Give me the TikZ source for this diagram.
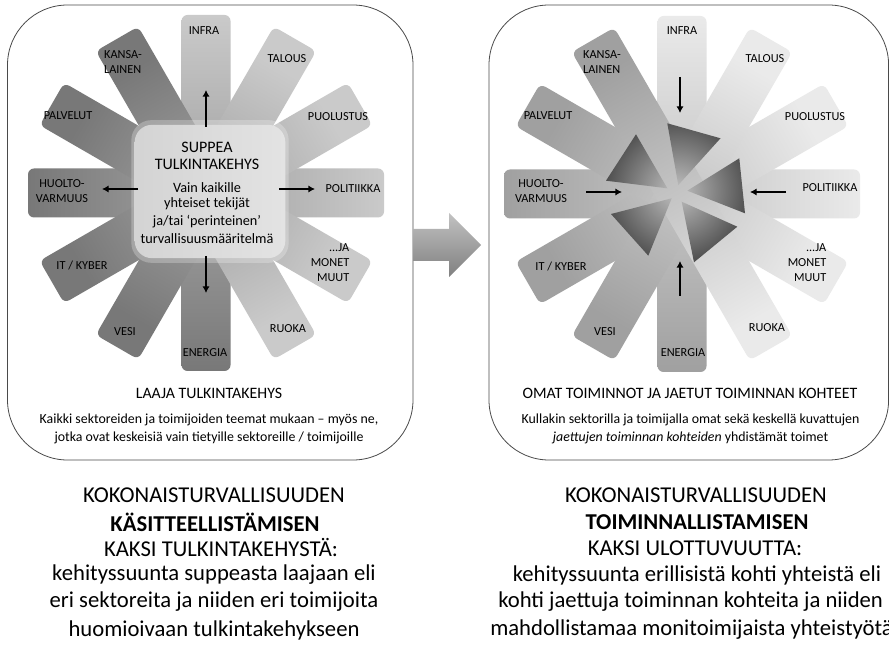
\documentclass[tikz,border=0pt]{standalone}
\usepackage{fontspec}
\setmainfont{Carlito}
\usetikzlibrary{arrows.meta,calc}
\definecolor{ldark}{HTML}{787878}
\definecolor{llight}{HTML}{CACACA}
\definecolor{rdark}{HTML}{A0A0A0}
\definecolor{rlight}{HTML}{EAEAEA}
\definecolor{framec}{HTML}{4A4A4A}
\newcommand{\starbar}[4]{%
  \pgfmathsetmacro{\sbA}{#2-90}%
  \pgfmathsetmacro{\sbB}{#2+90}%
  \pgfmathsetmacro{\sbC}{#2+180}%
  \shade[rounded corners=4.5pt, top color=#4, bottom color=#3, shading angle=\sbA]
    ($(#1)+(\sbC:178)+(\sbA:24.5)$) -- ($(#1)+(#2:178)+(\sbA:24.5)$) --
    ($(#1)+(#2:178)+(\sbB:24.5)$) -- ($(#1)+(\sbC:178)+(\sbB:24.5)$) -- cycle;}
\tikzset{
  frm/.style={draw=framec, line width=0.6pt, rounded corners=45pt, fill=white},
  lbl/.style={font=\fontsize{9.2}{11.2}\selectfont, align=center, inner sep=0pt},
  arr/.style={line width=1.1pt, -{Latex[length=5pt,width=5.5pt]}},
  capt/.style={font=\fontsize{11.9}{14}\selectfont, inner sep=0pt},
  subt/.style={font=\fontsize{10.4}{13}\selectfont, inner sep=0pt},
  bigt/.style={font=\fontsize{17}{20}\selectfont, inner sep=0pt},
  boxt/.style={font=\fontsize{12}{14}\selectfont, inner sep=0pt},
  boxs/.style={font=\fontsize{10.7}{13}\selectfont, inner sep=0pt},
}
\begin{document}
\begin{tikzpicture}[x=0.75pt,y=0.75pt]
\useasboundingbox (0,0) rectangle (889,-648);
% frames
\draw[frm] (7.5,-5) rectangle (413,-460);
\draw[frm] (489,-5) rectangle (888.6,-460);
% middle block arrow
\shade[top color=black!24, bottom color=black!50]
  (413.5,-229) -- (449,-229) -- (449,-213) -- (481,-245) -- (449,-277) -- (449,-261) -- (413.5,-261) -- cycle;
% ---------- left star ----------
\coordinate (cl) at (206,-193);
\starbar{cl}{90}{ldark}{llight}
\starbar{cl}{0}{ldark}{llight}
\starbar{cl}{30}{ldark}{llight}
\starbar{cl}{-30}{ldark}{llight}
\starbar{cl}{60}{ldark}{llight}
\starbar{cl}{-60}{ldark}{llight}
% center box
\node[minimum width=118pt, minimum height=107pt, rounded corners=15pt, fill=white, opacity=0.25] (glow) at (210,-191.5) {};
\node[minimum width=113pt, minimum height=100pt, rounded corners=13pt, left color=black!17, right color=black!11] (cbox) at (210,-191.5) {};
\node[boxt] (s1) at (207,-147) {SUPPEA};
\node[boxt] (s2) at (207,-164) {TULKINTAKEHYS};
\node[boxs] (s3) at (207,-188) {Vain kaikille};
\node[boxs] (s4) at (207,-204) {yhteiset tekijät};
\node[boxs] (s5) at (207,-222) {ja/tai ‘perinteinen’};
\node[boxs] (s6) at (207,-239) {turvallisuusmääritelmä};
% left arrows
\coordinate (lu) at (206,-90);
\coordinate (lus) at (206,-127);
\coordinate (ll) at (102,-189);
\coordinate (lls) at (138,-189);
\coordinate (lr) at (315,-189);
\coordinate (lrs) at (279,-189);
\coordinate (ld) at (206,-293);
\coordinate (lds) at (206,-256);
\draw[arr] (lus) -- (lu);
\draw[arr] (lls) -- (ll);
\draw[arr] (lrs) -- (lr);
\draw[arr] (lds) -- (ld);
% left labels
\node[lbl] (a1) at (204,-31) {INFRA};
\node[lbl] (a2) at (287,-59) {TALOUS};
\node[lbl] (a3) at (338,-117) {PUOLUSTUS};
\node[lbl] (a4) at (353,-189) {POLITIIKKA};
\node[lbl, align=right] (a5) at (330,-263) {...JA\\MONET\\MUUT};
\node[lbl] (a6) at (288,-329) {RUOKA};
\node[lbl] (a7) at (205,-353) {ENERGIA};
\node[lbl] (a8) at (125,-332) {VESI};
\node[lbl] (a9) at (82,-266) {IT / KYBER};
\node[lbl] (a10) at (62,-191) {HUOLTO-\\VARMUUS};
\node[lbl] (a11) at (68,-116) {PALVELUT};
\node[lbl, align=left] (a12) at (123,-62) {KANSA-\\LAINEN};
% left captions
\node[capt] (c1) at (209,-393) {LAAJA TULKINTAKEHYS};
\node[subt] (c2) at (209,-420) {Kaikki sektoreiden ja toimijoiden teemat mukaan – myös ne,};
\node[subt] (c3) at (209,-438) {jotka ovat keskeisiä vain tietyille sektoreille / toimijoille};
% ---------- right star ----------
\coordinate (cr) at (682,-194);
\starbar{cr}{90}{rdark}{rlight}
\starbar{cr}{0}{rdark}{rlight}
\starbar{cr}{30}{rdark}{rlight}
\starbar{cr}{-30}{rdark}{rlight}
\starbar{cr}{60}{rdark}{rlight}
\starbar{cr}{-60}{rdark}{rlight}
\begin{scope}
\clip (667.3,-123.3) -- (720.5,-138.3) -- (678.3,-185) -- cycle
      (636,-134.3) -- (606,-180.7) -- (667.3,-188.3) -- cycle
      (739.3,-158.3) -- (745,-213.3) -- (687.3,-190.7) -- cycle
      (611,-214) -- (671.7,-198.3) -- (648.3,-255.7) -- cycle
      (681.7,-201.7) -- (737.3,-226.7) -- (694,-262.3) -- cycle;
\shade[inner color=black!24, outer color=black!78] (677,-191) circle (86);
\end{scope}
% right arrows
\coordinate (rus) at (680,-77);
\coordinate (ru) at (680,-113);
\coordinate (rls) at (586,-192);
\coordinate (rl) at (622,-192);
\coordinate (rrs) at (786,-192);
\coordinate (rr) at (750,-192);
\coordinate (rds) at (680,-296);
\coordinate (rd) at (680,-261);
\draw[arr] (rus) -- (ru);
\draw[arr] (rls) -- (rl);
\draw[arr] (rrs) -- (rr);
\draw[arr] (rds) -- (rd);
% right labels
\node[lbl] (b1) at (682,-31) {INFRA};
\node[lbl] (b2) at (765,-59) {TALOUS};
\node[lbl] (b3) at (815,-117) {PUOLUSTUS};
\node[lbl] (b4) at (830,-188) {POLITIIKKA};
\node[lbl, align=right] (b5) at (807,-263) {...JA\\MONET\\MUUT};
\node[lbl] (b6) at (767,-328) {RUOKA};
\node[lbl] (b7) at (683,-353) {ENERGIA};
\node[lbl] (b8) at (605,-332) {VESI};
\node[lbl] (b9) at (561,-267) {IT / KYBER};
\node[lbl] (b10) at (541,-191) {HUOLTO-\\VARMUUS};
\node[lbl] (b11) at (548,-116) {PALVELUT};
\node[lbl, align=left] (b12) at (602,-62) {KANSA-\\LAINEN};
% right captions
\node[capt] (d1) at (690,-393) {OMAT TOIMINNOT JA JAETUT TOIMINNAN KOHTEET};
\node[subt] (d2) at (690.5,-420) {Kullakin sektorilla ja toimijalla omat sekä keskellä kuvattujen};
\node[subt] (d3) at (690.5,-438) {\textit{jaettujen toiminnan kohteiden} yhdistämät toimet};
% bottom texts left
\node[bigt] (e1) at (214,-495) {KOKONAISTURVALLISUUDEN};
\node[bigt] (e2) at (215,-522) {\textbf{KÄSITTEELLISTÄMISEN}};
\node[bigt] (e3) at (221,-548) {KAKSI TULKINTAKEHYSTÄ:};
\node[bigt] (e4) at (214,-575) {kehityssuunta suppeasta laajaan eli};
\node[bigt] (e5) at (214,-602) {eri sektoreita ja niiden eri toimijoita};
\node[bigt] (e6) at (214,-630) {huomioivaan tulkintakehykseen};
% bottom texts right
\node[bigt] (f1) at (696,-495) {KOKONAISTURVALLISUUDEN};
\node[bigt] (f2) at (697,-522) {\textbf{TOIMINNALLISTAMISEN}};
\node[bigt] (f3) at (695,-548) {KAKSI ULOTTUVUUTTA:};
\node[bigt] (f4) at (697,-575) {kehityssuunta erillisistä kohti yhteistä eli};
\node[bigt, anchor=west] (f5) at (498,-602) {kohti jaettuja toiminnan kohteita ja niiden};
\node[bigt, anchor=west] (f6) at (490,-630) {mahdollistamaa monitoimijaista yhteistyötä};
\end{tikzpicture}
\end{document}
